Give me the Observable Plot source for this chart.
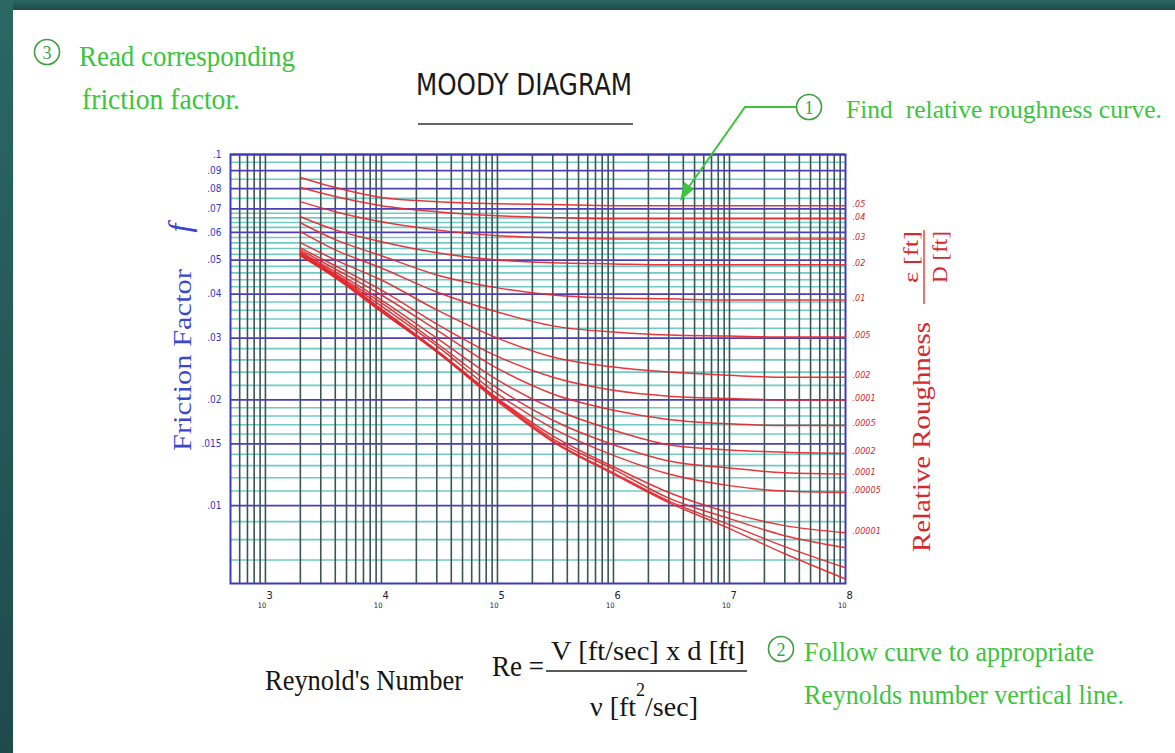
<!DOCTYPE html>
<html>
<head>
<meta charset="utf-8">
<script src="https://cdn.jsdelivr.net/npm/d3@7"></script>
<script src="https://cdn.jsdelivr.net/npm/@observablehq/plot@0.6"></script>
<style>
  html, body { margin: 0; padding: 0; background: #ffffff; }
  #chart svg { display: block; }
</style>
</head>
<body>
<div id="chart"></div>
<script>
// ---------------- DATA ----------------
// Reynolds numbers at which each curve was read
const reynolds = [2000, 4000, 10000, 30000, 100000, 300000, 1000000, 3000000, 10000000, 30000000, 100000000];

// friction factor f for each relative-roughness curve
const f_0_05     = [0.0860, 0.0805, 0.0754, 0.0734, 0.0724, 0.0720, 0.0715, 0.0715, 0.0715, 0.0715, 0.0715];
const f_0_04     = [0.0805, 0.0759, 0.0715, 0.0687, 0.0669, 0.0661, 0.0656, 0.0656, 0.0656, 0.0656, 0.0656];
const f_0_03     = [0.0734, 0.0687, 0.0643, 0.0610, 0.0587, 0.0579, 0.0575, 0.0575, 0.0575, 0.0575, 0.0575];
const f_0_02     = [0.0665, 0.0610, 0.0564, 0.0525, 0.0501, 0.0492, 0.0488, 0.0485, 0.0485, 0.0485, 0.0485];
const f_0_01     = [0.0639, 0.0572, 0.0515, 0.0454, 0.0417, 0.0398, 0.0390, 0.0388, 0.0385, 0.0385, 0.0385];
const f_0_005    = [0.0603, 0.0535, 0.0475, 0.0406, 0.0356, 0.0325, 0.0312, 0.0306, 0.0304, 0.0302, 0.0302];
const f_0_002    = [0.0561, 0.0501, 0.0439, 0.0361, 0.0300, 0.0265, 0.0248, 0.0240, 0.0235, 0.0232, 0.0232];
const f_0_001    = [0.0542, 0.0482, 0.0411, 0.0329, 0.0266, 0.0232, 0.0213, 0.0205, 0.0202, 0.0200, 0.0200];
const f_0_0005   = [0.0535, 0.0472, 0.0398, 0.0316, 0.0246, 0.0208, 0.0187, 0.0176, 0.0171, 0.0169, 0.0169];
const f_0_0002   = [0.0528, 0.0463, 0.0385, 0.0300, 0.0228, 0.0189, 0.0164, 0.0149, 0.0144, 0.0142, 0.0141];
const f_0_0001   = [0.0525, 0.0457, 0.0378, 0.0290, 0.0216, 0.0175, 0.0149, 0.0134, 0.0128, 0.0124, 0.0123];
const f_0_00005  = [0.0522, 0.0454, 0.0370, 0.0285, 0.0208, 0.0166, 0.0139, 0.0123, 0.0114, 0.0110, 0.0109];
const f_0_00001  = [0.0518, 0.0451, 0.0363, 0.0277, 0.0202, 0.0158, 0.0129, 0.0109, 0.00955, 0.00877, 0.00837];
const f_0_000005 = [0.0518, 0.0448, 0.0361, 0.0275, 0.0201, 0.0155, 0.0127, 0.0105, 0.00918, 0.00821, 0.00759];
const f_0_000001 = [0.0515, 0.0448, 0.0358, 0.0274, 0.0200, 0.0153, 0.0124, 0.0103, 0.00883, 0.00764, 0.00665];
const f_smooth   = [0.0515, 0.0445, 0.0356, 0.0274, 0.0198, 0.0152, 0.0123, 0.0102, 0.0086, 0.00729, 0.00618];

// right-hand curve labels (as printed in the picture), in curve order
const roughnessLabels = [".05", ".04", ".03", ".02", ".01", ".005", ".002", ".0001", ".0005", ".0002", ".0001", ".00005", ".00001", "", "", ""];
const curveSeries = [f_0_05, f_0_04, f_0_03, f_0_02, f_0_01, f_0_005, f_0_002, f_0_001, f_0_0005,
                     f_0_0002, f_0_0001, f_0_00005, f_0_00001, f_0_000005, f_0_000001, f_smooth];

// friction-factor axis: labelled (blue) lines and their labels
const fMajor = [0.1, 0.09, 0.08, 0.07, 0.06, 0.05, 0.04, 0.03, 0.02, 0.015, 0.01];
const fMajorLabels = [".1", ".09", ".08", ".07", ".06", ".05", ".04", ".03", ".02", ".015", ".01"];
// unlabelled (teal) friction-factor lines
const fMinor = [0.095, 0.085, 0.075,
  0.068, 0.066, 0.064, 0.062, 0.058, 0.056, 0.054, 0.052,
  0.048, 0.046, 0.044, 0.042, 0.038, 0.036, 0.034, 0.032,
  0.028, 0.026, 0.024, 0.022, 0.019, 0.018, 0.017, 0.016,
  0.014, 0.013, 0.012, 0.011, 0.009, 0.008, 0.007];

// Reynolds axis: decade labels and vertical grid lines
const reDecades = [1e3, 1e4, 1e5, 1e6, 1e7, 1e8];
const reExponents = ["3", "4", "5", "6", "7", "8"];
const reGridMultipliers = [1, 2, 3, 4, 5, 6, 7, 8, 9];
const reGridStart = [600, 700, 800, 900];

// ---------------- build tables ----------------
const rows = curveSeries.flatMap((s, k) => reynolds.map((re, i) => ({ re, f: s[i], k })));
const ends = curveSeries.map((s, k) => ({ re: reynolds[reynolds.length - 1], f: s[s.length - 1], label: roughnessLabels[k] }))
  .filter(d => d.label !== "");
const reGrid = reGridStart.concat(
  [1e3, 1e4, 1e5, 1e6, 1e7].flatMap(d => reGridMultipliers.filter(m => !(d === 1e3 && m === 1)).map(m => m * d)),
  [1e3]);

const NARROW = "'Liberation Sans Narrow', 'DejaVu Sans Condensed', 'Roboto', sans-serif";
const SERIF = "'Liberation Serif', 'DejaVu Serif', serif";

const plot = Plot.plot({
  width: 1175,
  height: 753,
  marginLeft: 230,
  marginRight: 330,
  marginTop: 154,
  marginBottom: 170,
  x: { type: "log", domain: [500, 1e8], axis: null },
  y: { type: "log", domain: [0.006, 0.1], axis: null },
  style: { background: "#ffffff", fontFamily: NARROW, overflow: "visible" },
  marks: [
    Plot.ruleY(fMinor, { stroke: "#6fcbc4", strokeWidth: 1.6 }),
    Plot.ruleX(reGrid, { stroke: "#3b5551", strokeWidth: 1.6 }),
    Plot.ruleY(fMajor, { stroke: "#4a3fb3", strokeWidth: 1.8 }),
    Plot.frame({ stroke: "#3c3cb8", strokeWidth: 2 }),
    Plot.line(rows, { x: "re", y: "f", z: "k", stroke: "#e5262c", strokeWidth: 1.5, strokeOpacity: 0.92, curve: "monotone-x" }),
    Plot.text(ends, { x: "re", y: "f", text: "label", dx: 7, dy: -2, textAnchor: "start", fill: "#d0282c", fontSize: 9, fontStyle: "italic" }),
    Plot.text(fMajor, { y: d => d, frameAnchor: "left", dx: -9, text: (d, i) => fMajorLabels[i], textAnchor: "end", fill: "#3535c8", fontSize: 10 }),
    Plot.text(reDecades, { x: d => d, frameAnchor: "bottom", dy: 24, dx: 1, text: () => "10", textAnchor: "end", fontSize: 7.5, fill: "#222" }),
    Plot.text(reDecades, { x: d => d, frameAnchor: "bottom", dy: 15, dx: 1, text: (d, i) => reExponents[i], textAnchor: "start", fontSize: 11, fill: "#222" })
  ]
});

document.getElementById("chart").appendChild(plot);

// ---------------- annotations ----------------
const svg = d3.select(plot);
const ann = svg.append("g").attr("text-anchor", "start");
const GREEN = "#3cc43c";
const CIRCLE = "#3f9f3f";

function T(x, y, s, o = {}) {
  const t = ann.append("text").attr("x", x).attr("y", y).text(s)
    .attr("font-family", o.family || SERIF)
    .attr("font-size", o.size || 30)
    .attr("fill", o.fill || "#111")
    .attr("text-anchor", o.anchor || "start");
  if (o.len) t.attr("textLength", o.len).attr("lengthAdjust", "spacingAndGlyphs");
  if (o.italic) t.attr("font-style", "italic");
  if (o.transform) t.attr("transform", o.transform);
  return t;
}
function circled(cx, cy, n) {
  ann.append("circle").attr("cx", cx).attr("cy", cy).attr("r", 12.5)
    .attr("fill", "none").attr("stroke", CIRCLE).attr("stroke-width", 1.6);
  T(cx, cy + 6.5, n, { size: 18, fill: CIRCLE, anchor: "middle" });
}

// title
T(416, 95, "MOODY DIAGRAM", { family: NARROW, size: 31, len: 216, fill: "#1a1a1a" });
ann.append("line").attr("x1", 418).attr("x2", 633).attr("y1", 124).attr("y2", 124)
  .attr("stroke", "#333").attr("stroke-width", 1.6);

// step 3
circled(47, 52, "3");
T(79, 66, "Read corresponding", { size: 30, len: 216, fill: GREEN });
T(82, 109, "friction factor.", { size: 30, len: 158, fill: GREEN });

// step 1
circled(809, 107, "1");
ann.append("polyline").attr("points", "796,107 745,107 688,188")
  .attr("fill", "none").attr("stroke", GREEN).attr("stroke-width", 2);
ann.append("polygon").attr("points", "680,201 684,182 694,189")
  .attr("fill", GREEN);
T(846, 118, "Find  relative roughness curve.", { size: 25.5, len: 316, fill: GREEN });

// step 2
circled(781, 649, "2");
T(804, 661, "Follow curve to appropriate", { size: 27, len: 290, fill: GREEN });
T(804, 704, "Reynolds number vertical line.", { size: 27, len: 320, fill: GREEN });

// Reynolds number formula
T(265, 690, "Reynold's Number", { size: 29, len: 198, fill: "#151515" });
T(492, 676, "Re =", { size: 29, len: 52, fill: "#151515" });
T(551, 660, "V [ft/sec] x d [ft]", { size: 28, len: 194, fill: "#151515" });
ann.append("line").attr("x1", 546).attr("x2", 747).attr("y1", 671).attr("y2", 671)
  .attr("stroke", "#222").attr("stroke-width", 1.6);
const den = T(590, 716, "", { size: 28, fill: "#151515" });
den.append("tspan").text("ν [ft");
den.append("tspan").attr("dy", -20).attr("font-size", 18).text("2");
den.append("tspan").attr("dy", 20).text("/sec]");

// left axis title
T(0, 0, "Friction Factor", { size: 26, len: 182, fill: "#3b47cc", anchor: "middle", transform: "translate(191,360) rotate(-90)" });
T(0, 0, "f", { size: 32, fill: "#3b47cc", anchor: "middle", italic: true, transform: "translate(190,228) rotate(-90)" });

// right axis title
T(0, 0, "Relative Roughness", { size: 26, len: 230, fill: "#d42a2e", anchor: "middle", transform: "translate(930,437) rotate(-90)" });
T(0, 0, "\u03B5 [ft]", { size: 21, len: 52, fill: "#d42a2e", anchor: "middle", transform: "translate(918,257) rotate(-90)" });
T(0, 0, "D [ft]", { size: 21, len: 52, fill: "#d42a2e", anchor: "middle", transform: "translate(947,257) rotate(-90)" });
ann.append("line").attr("x1", 924).attr("x2", 924).attr("y1", 230).attr("y2", 304)
  .attr("stroke", "#d42a2e").attr("stroke-width", 1.3);

// slide frame (dark teal edges)
const defs = svg.append("defs");
const g = defs.append("linearGradient").attr("id", "teal").attr("x1", 0).attr("y1", 0).attr("x2", 0).attr("y2", 1);
g.append("stop").attr("offset", "0%").attr("stop-color", "#2b6763");
g.append("stop").attr("offset", "100%").attr("stop-color", "#1e4a4c");
svg.append("rect").attr("x", 0).attr("y", 0).attr("width", 1175).attr("height", 10).attr("fill", "url(#teal)");
svg.append("rect").attr("x", 0).attr("y", 0).attr("width", 13).attr("height", 753).attr("fill", "url(#teal)");
</script>
</body>
</html>
